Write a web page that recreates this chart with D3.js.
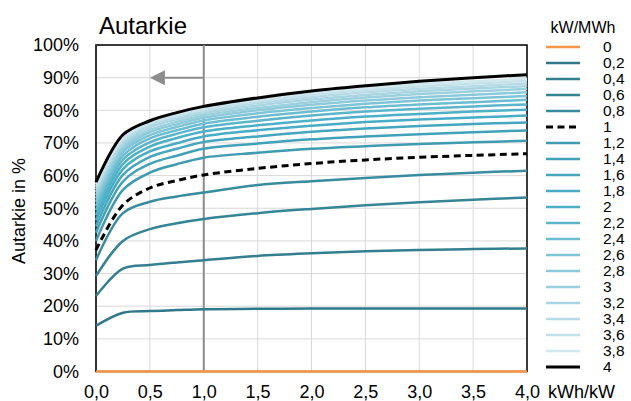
<!DOCTYPE html>
<html>
<head>
<meta charset="utf-8">
<script src="https://cdn.jsdelivr.net/npm/d3@7"></script>
<style>
  html, body { margin: 0; padding: 0; background: #fff; }
  svg { display: block; font-family: "Liberation Sans", Arial, sans-serif; }
</style>
</head>
<body>
<svg id="chart" width="631" height="401"></svg>
<script>
// Storage capacity (kWh/kW) at which each curve is sampled
const capacity = [0, 0.25, 0.5, 0.75, 1, 1.5, 2, 2.5, 3, 3.5, 4];

// Autarky (%) per series, one array per kW/MWh value
const s0_0 = [0, 0, 0, 0, 0, 0, 0, 0, 0, 0, 0];
const s0_2 = [14.0, 18.0, 18.5, 18.8, 19.1, 19.2, 19.3, 19.3, 19.3, 19.3, 19.3];
const s0_4 = [23.1, 31.5, 32.6, 33.4, 34.1, 35.4, 36.2, 36.8, 37.2, 37.5, 37.7];
const s0_6 = [29.2, 40.0, 43.6, 45.4, 46.7, 48.5, 49.8, 50.9, 51.8, 52.6, 53.3];
const s0_8 = [34.1, 48.5, 52.0, 53.6, 54.8, 57.1, 58.3, 59.3, 60.2, 60.9, 61.5];
const s1_0 = [37.2, 51.0, 56.2, 58.5, 60.2, 62.2, 63.7, 64.8, 65.6, 66.2, 66.7];
const s1_2 = [40.0, 55.6, 60.9, 63.5, 65.5, 67.0, 68.2, 69.0, 69.7, 70.2, 70.7];
const s1_4 = [42.5, 58.2, 63.6, 66.1, 68.2, 69.8, 71.1, 72.0, 72.7, 73.3, 73.8];
const s1_6 = [44.5, 60.2, 65.7, 68.2, 70.3, 72.0, 73.4, 74.4, 75.2, 75.8, 76.3];
const s1_8 = [46.3, 62.0, 67.4, 69.9, 72.0, 73.9, 75.3, 76.4, 77.2, 77.8, 78.4];
const s2_0 = [47.9, 63.5, 68.9, 71.5, 73.5, 75.4, 76.9, 78.1, 78.9, 79.6, 80.2];
const s2_2 = [49.4, 64.9, 70.2, 72.8, 74.8, 76.8, 78.4, 79.6, 80.5, 81.2, 81.8];
const s2_4 = [50.7, 66.1, 71.4, 73.9, 75.9, 78.0, 79.6, 80.9, 81.8, 82.5, 83.2];
const s2_6 = [51.9, 67.2, 72.4, 74.9, 76.9, 79.1, 80.7, 82.0, 83.0, 83.7, 84.4];
const s2_8 = [53.0, 68.1, 73.3, 75.7, 77.7, 80.0, 81.7, 83.0, 84.0, 84.8, 85.5];
const s3_0 = [54.0, 68.9, 74.0, 76.4, 78.4, 80.7, 82.5, 83.9, 85.0, 85.8, 86.5];
const s3_2 = [55.0, 69.7, 74.8, 77.2, 79.1, 81.5, 83.3, 84.7, 85.8, 86.7, 87.4];
const s3_4 = [55.8, 70.4, 75.4, 77.8, 79.7, 82.2, 84.0, 85.5, 86.6, 87.4, 88.2];
const s3_6 = [56.6, 71.0, 76.0, 78.3, 80.2, 82.8, 84.7, 86.2, 87.3, 88.2, 89.0];
const s3_8 = [57.3, 71.6, 76.5, 78.8, 80.7, 83.3, 85.3, 86.8, 88.0, 88.9, 89.7];
const s4_0 = [58.0, 72.5, 76.8, 79.3, 81.2, 83.8, 85.9, 87.5, 88.9, 90.0, 90.9];

const seriesLabels = ["0", "0,2", "0,4", "0,6", "0,8", "1", "1,2", "1,4", "1,6", "1,8",
  "2", "2,2", "2,4", "2,6", "2,8", "3", "3,2", "3,4", "3,6", "3,8", "4"];
const seriesValues = [s0_0, s0_2, s0_4, s0_6, s0_8, s1_0, s1_2, s1_4, s1_6, s1_8,
  s2_0, s2_2, s2_4, s2_6, s2_8, s3_0, s3_2, s3_4, s3_6, s3_8, s4_0];
const seriesColors = ["#f79646", "#31798a", "#337f8f", "#358595", "#388c9d", "#000000",
  "#3e9bb0", "#41a1b8", "#44a7bf", "#47acc5", "#4cb0c8", "#5bb6cc", "#6cbdd1",
  "#7dc4d6", "#8ccadb", "#9bd0de", "#a9d5e2", "#b7dbe6", "#c4e1ea", "#d2e8ef", "#000000"];

const xTicks = [0, 0.5, 1, 1.5, 2, 2.5, 3, 3.5, 4];
const yTicks = [0, 10, 20, 30, 40, 50, 60, 70, 80, 90, 100];

const svg = d3.select("#chart");
const plotL = 96, plotR = 527, plotT = 45, plotB = 371.5;

const x = d3.scaleLinear().domain([0, 4]).range([plotL, plotR]);
const y = d3.scaleLinear().domain([0, 100]).range([plotB, plotT]);
const fmtX = d => d3.format(".1f")(d).replace(".", ",");

// Grid
const grid = svg.append("g").attr("stroke", "#d9d9d9").attr("stroke-width", 1);
grid.selectAll(".gx").data(xTicks).join("line")
  .attr("x1", d => x(d)).attr("x2", d => x(d)).attr("y1", plotT).attr("y2", plotB);
grid.selectAll(".gy").data(yTicks).join("line")
  .attr("x1", plotL).attr("x2", plotR).attr("y1", d => y(d)).attr("y2", d => y(d));

// Plot frame
svg.append("rect").attr("x", plotL).attr("y", plotT)
  .attr("width", plotR - plotL).attr("height", plotB - plotT)
  .attr("fill", "none").attr("stroke", "#000").attr("stroke-width", 1.5);

// Axes (labels only; lines drawn by the frame)
const xAxis = svg.append("g").attr("transform", `translate(0,${plotB})`)
  .call(d3.axisBottom(x).tickValues(xTicks).tickSize(0).tickPadding(13.5)
    .tickFormat(fmtX));
const yAxis = svg.append("g").attr("transform", `translate(${plotL},0)`)
  .call(d3.axisLeft(y).tickValues(yTicks).tickSize(0).tickPadding(17)
    .tickFormat(d => d + "%"));
[xAxis, yAxis].forEach(a => {
  a.select(".domain").remove();
  a.selectAll("text").attr("font-size", 18).attr("fill", "#000")
    .attr("font-family", "'Liberation Sans', Arial, sans-serif");
});
xAxis.selectAll("text").attr("dy", "0.71em");

// Left axis line
svg.append("line").attr("x1", plotL).attr("x2", plotL).attr("y1", plotT).attr("y2", plotB)
  .attr("stroke", "#333").attr("stroke-width", 2);

// Vertical marker at 1 kWh/kW with arrow pointing to the axis
svg.append("line").attr("x1", x(1)).attr("x2", x(1)).attr("y1", plotT).attr("y2", plotB)
  .attr("stroke", "#8c8c8c").attr("stroke-width", 2);
svg.append("line").attr("x1", x(1)).attr("x2", x(0.62)).attr("y1", y(90)).attr("y2", y(90))
  .attr("stroke", "#8c8c8c").attr("stroke-width", 2);
svg.append("path")
  .attr("d", `M${x(0.5)},${y(90)} L${x(0.5) + 15},${y(90) - 7.5} L${x(0.5) + 15},${y(90) + 7.5} Z`)
  .attr("fill", "#8c8c8c");

// Curves (smoothed like spreadsheet lines)
const line = d3.line()
  .x((d, i) => x(capacity[i]))
  .y(d => y(d))
  .curve(d3.curveCatmullRom.alpha(0.5));

const curves = svg.append("g").attr("fill", "none");
seriesValues.forEach((vals, k) => {
  const label = seriesLabels[k];
  curves.append("path")
    .attr("d", line(vals))
    .attr("stroke", seriesColors[k])
    .attr("stroke-width", label === "4" ? 3 : (label === "1" ? 3 : 2.5))
    .attr("stroke-dasharray", label === "1" ? "7,4.5" : null)
    .attr("stroke-linejoin", "round");
});

// Title and axis labels
svg.append("text").attr("x", 99).attr("y", 34).attr("font-size", 24)
  .attr("fill", "#000").text("Autarkie");
svg.append("text").attr("transform", "translate(25,211) rotate(-90)")
  .attr("text-anchor", "middle").attr("font-size", 18).attr("fill", "#000")
  .text("Autarkie in %");
svg.append("text").attr("x", 548).attr("y", 398).attr("font-size", 18)
  .attr("fill", "#000").text("kWh/kW");

// Legend
const legend = svg.append("g");
legend.append("text").attr("x", 583).attr("y", 33).attr("text-anchor", "middle")
  .attr("font-size", 16).attr("fill", "#000").text("kW/MWh");
seriesLabels.forEach((lab, k) => {
  const ly = 47 + k * 16;
  legend.append("line").attr("x1", 546).attr("x2", 580).attr("y1", ly).attr("y2", ly)
    .attr("stroke", seriesColors[k])
    .attr("stroke-width", lab === "4" || lab === "1" ? 3 : 2.5)
    .attr("stroke-dasharray", lab === "1" ? "7,4.5" : null);
  legend.append("text").attr("x", 603).attr("y", ly).attr("dy", "0.35em")
    .attr("font-size", 15.5).attr("fill", "#000").text(lab);
});
</script>
</body>
</html>
